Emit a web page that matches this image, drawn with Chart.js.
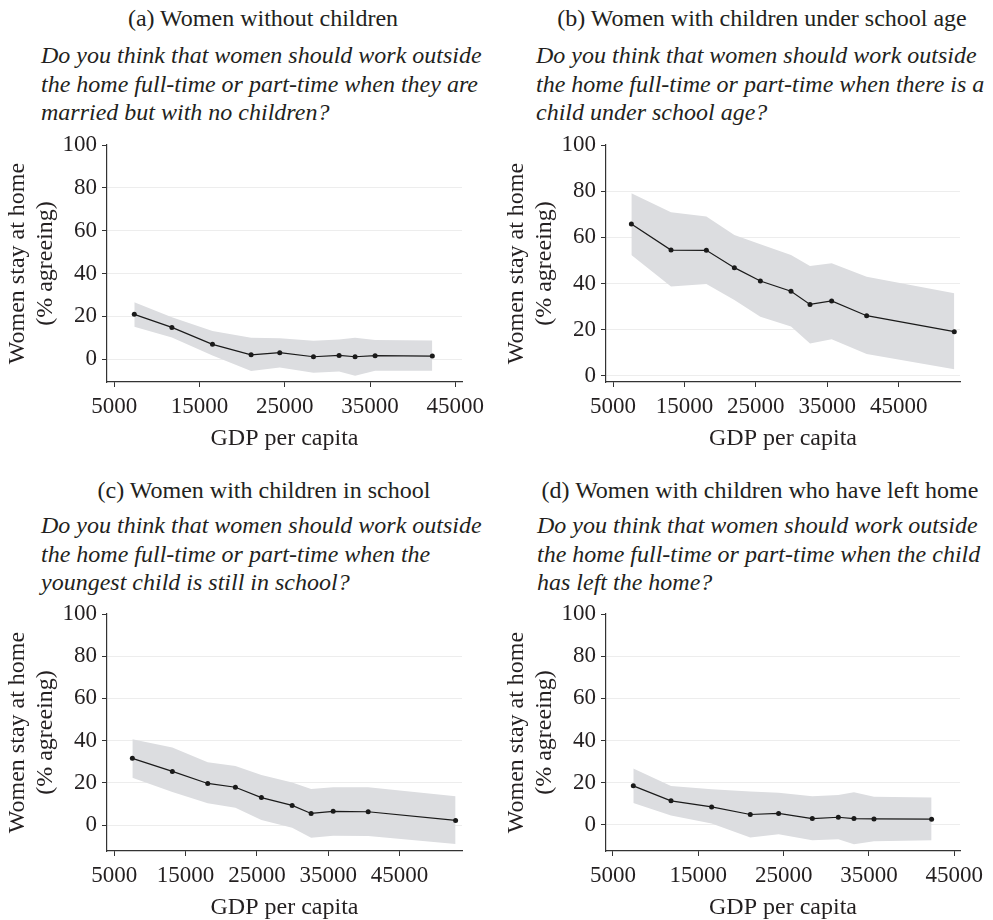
<!DOCTYPE html>
<html><head><meta charset="utf-8">
<script src="https://cdn.jsdelivr.net/npm/chart.js@4.4.1/dist/chart.umd.min.js"></script>
<style>
html,body{margin:0;padding:0;background:#fff;width:993px;height:920px;overflow:hidden;}
body{position:relative;font-family:'Liberation Serif','Times New Roman',serif;color:#231f20;}
.ttl{position:absolute;font-size:24px;line-height:28px;white-space:nowrap;transform:translateX(-50%);}
.q{position:absolute;font-size:24px;line-height:28.5px;font-style:italic;white-space:nowrap;}
canvas{position:absolute;}
</style></head>
<body>
<div class="ttl" style="left:263px;top:4px">(a) Women without children</div>
<div class="q" style="left:41px;top:41px">Do you think that women should work outside<br>the home full-time or part-time when they are<br>married but with no children?</div>
<div class="ttl" style="left:762px;top:4px">(b) Women with children under school age</div>
<div class="q" style="left:536px;top:41px">Do you think that women should work outside<br>the home full-time or part-time when there is a<br>child under school age?</div>
<div class="ttl" style="left:264px;top:476px">(c) Women with children in school</div>
<div class="q" style="left:41px;top:511px">Do you think that women should work outside<br>the home full-time or part-time when the<br>youngest child is still in school?</div>
<div class="ttl" style="left:760px;top:476px">(d) Women with children who have left home</div>
<div class="q" style="left:537px;top:511px">Do you think that women should work outside<br>the home full-time or part-time when the child<br>has left the home?</div>

<canvas id="ca" width="490" height="331" style="left:0px;top:120px"></canvas>
<canvas id="cb" width="494" height="331" style="left:499px;top:120px"></canvas>
<canvas id="cc" width="490" height="331" style="left:0px;top:589px"></canvas>
<canvas id="cd" width="494" height="331" style="left:499px;top:589px"></canvas>

<script>
const xTicks = [5000, 15000, 25000, 35000, 45000];
const yTicks = [0, 20, 40, 60, 80, 100];

// (a) Women without children
const gdpA   = [7350, 11760, 16520, 21050, 24410, 28360, 31370, 33240, 35590, 42300];
const meanA  = [20.9, 14.8, 6.9, 2.0, 3.0, 1.1, 1.7, 1.1, 1.6, 1.4];
const upperA = [26.6, 19.5, 13.1, 10.0, 9.7, 8.6, 9.2, 10.0, 8.9, 8.7];
const lowerA = [15.1, 10.1, 1.7, -5.6, -3.9, -6.4, -5.8, -7.8, -5.5, -5.5];

// (b) Women with children under school age
const gdpB   = [7570, 13120, 18070, 21990, 25630, 29920, 32580, 35610, 40510, 52780];
const meanB  = [65.8, 54.5, 54.4, 46.9, 41.1, 36.7, 31.0, 32.5, 26.1, 19.2];
const upperB = [79.1, 70.9, 69.0, 61.0, 57.0, 52.4, 47.6, 48.8, 43.0, 35.8];
const lowerB = [52.4, 38.7, 39.8, 32.9, 25.7, 21.4, 14.1, 15.9, 9.5, 2.9];

// (c) Women with children in school
const gdpC   = [7530, 13140, 18100, 21980, 25630, 29940, 32600, 35690, 40600, 52860];
const meanC  = [31.6, 25.4, 19.7, 17.9, 13.0, 9.3, 5.5, 6.5, 6.3, 2.2];
const upperC = [40.6, 36.7, 29.7, 28.0, 23.7, 20.2, 17.1, 17.9, 17.9, 13.7];
const lowerC = [22.4, 15.6, 10.3, 8.2, 2.4, -1.3, -6.0, -5.1, -5.2, -9.0];

// (d) Women with children who have left home
const gdpD   = [7380, 11800, 16560, 21090, 24410, 28360, 31410, 33240, 35590, 42340];
const meanD  = [18.5, 11.4, 8.5, 4.9, 5.4, 3.0, 3.6, 3.0, 2.8, 2.7];
const upperD = [26.7, 18.4, 16.9, 15.8, 15.2, 13.6, 14.2, 15.5, 13.3, 13.0];
const lowerD = [10.4, 4.4, 0.6, -6.0, -4.4, -7.3, -6.8, -9.2, -7.8, -7.3];

const xTitle = 'GDP per capita';
const yTitle = ['Women stay at home', '(% agreeing)'];

const FONT = "'Liberation Serif', 'Times New Roman', serif";
const INK = '#231f20';

function pts(xs, ys) { return xs.map((x, i) => ({x: x, y: ys[i]})); }

function zeroPad(s) { s.paddingLeft = 0; s.paddingRight = 0; s.paddingTop = 0; s.paddingBottom = 0; }

function makeChart(id, gdp, mean, upper, lower, xMin, xMax, yMin, padRight) {
  new Chart(document.getElementById(id), {
    type: 'line',
    data: {
      datasets: [
        { data: pts(gdp, mean), borderColor: '#1a1a1a', borderWidth: 1.2, pointRadius: 2.5,
          pointBackgroundColor: '#1a1a1a', pointBorderWidth: 0, fill: false, tension: 0 },
        { data: pts(gdp, upper), borderWidth: 0, borderColor: 'rgba(0,0,0,0)', pointRadius: 0,
          fill: '+1', backgroundColor: '#dcdde0', tension: 0 },
        { data: pts(gdp, lower), borderWidth: 0, borderColor: 'rgba(0,0,0,0)', pointRadius: 0,
          fill: false, tension: 0 }
      ]
    },
    options: {
      responsive: false, animation: false, devicePixelRatio: 1,
      layout: { padding: { top: 25, right: padRight, bottom: 0, left: 0 } },
      plugins: { legend: { display: false }, tooltip: { enabled: false } },
      scales: {
        x: {
          type: 'linear', min: xMin, max: xMax, bounds: 'data',
          afterBuildTicks: s => { s.ticks = xTicks.map(v => ({value: v})); },
          afterFit: s => { s.height = 69; zeroPad(s); },
          ticks: { callback: v => String(v), font: { family: FONT, size: 23, lineHeight: 1.2 },
                   color: INK, padding: 6, maxRotation: 0, autoSkip: false },
          grid: { drawOnChartArea: false, tickLength: 5, tickColor: '#333', tickWidth: 1 },
          border: { display: true, color: '#333', width: 1.2 },
          title: { display: true, text: xTitle, color: INK,
                   font: { family: FONT, size: 24, lineHeight: 1 }, padding: { top: 0, bottom: 0 } }
        },
        y: {
          type: 'linear', min: yMin, max: 100, bounds: 'data',
          afterBuildTicks: s => { s.ticks = yTicks.map(v => ({value: v})); },
          afterFit: s => { s.width = 107; zeroPad(s); },
          ticks: { callback: v => String(v), font: { family: FONT, size: 23, lineHeight: 1.2 },
                   color: INK, padding: 5, autoSkip: false },
          grid: { color: c => (c.tick && c.tick.value === 100) ? 'rgba(0,0,0,0)' : '#ededed',
                  lineWidth: 1, tickLength: 5, tickColor: '#333', tickWidth: 1 },
          border: { display: true, color: '#333', width: 1.2 },
          title: { display: true, text: yTitle, color: INK,
                   font: { family: FONT, size: 24, lineHeight: 1.2 }, padding: { top: 3, bottom: 0 } }
        }
      }
    }
  });
}

makeChart('ca', gdpA, meanA, upperA, lowerA, 4150, 45780, -10.7, 28);
makeChart('cb', gdpB, meanB, upperB, lowerB, 4020, 53580, -2.6, 33);
makeChart('cc', gdpC, meanC, upperC, lowerC, 3975, 53760, -12.3, 28);
makeChart('cd', gdpD, meanD, upperD, lowerD, 4180, 45670, -12.4, 33);
</script>
</body></html>
